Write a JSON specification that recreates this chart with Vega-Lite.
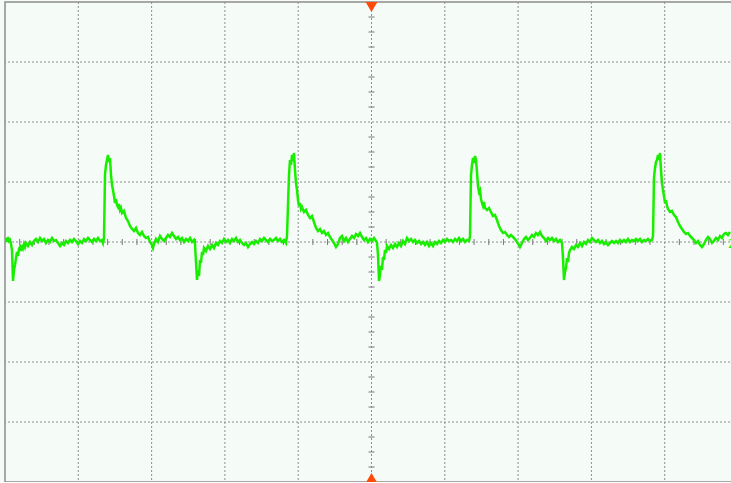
{
  "$schema": "https://vega.github.io/schema/vega-lite/v6.json",
  "width": 733,
  "height": 480,
  "autosize": "none",
  "padding": {"left": 5, "top": 2, "right": 0, "bottom": 0},
  "background": "#f5fbf7",
  "config": {
    "view": {"stroke": "#8c8c8c", "strokeWidth": 1.5, "fill": "#f5fbf7"}
  },
  "datasets": {
    "vgrid": [{"t": 73.3}, {"t": 146.6}, {"t": 219.9}, {"t": 293.2}, {"t": 366.5}, {"t": 439.8}, {"t": 513.1}, {"t": 586.4}, {"t": 659.7}],
    "hgrid": [{"v": 180}, {"v": 120}, {"v": 60}, {"v": 0}, {"v": -60}, {"v": -120}, {"v": -180}],
    "xsub": [{"t": 14.66}, {"t": 29.32}, {"t": 43.98}, {"t": 58.64}, {"t": 87.96}, {"t": 102.62}, {"t": 117.28}, {"t": 131.94}, {"t": 161.26}, {"t": 175.92}, {"t": 190.58}, {"t": 205.24}, {"t": 234.56}, {"t": 249.22}, {"t": 263.88}, {"t": 278.54}, {"t": 307.86}, {"t": 322.52}, {"t": 337.18}, {"t": 351.84}, {"t": 381.16}, {"t": 395.82}, {"t": 410.48}, {"t": 425.14}, {"t": 454.46}, {"t": 469.12}, {"t": 483.78}, {"t": 498.44}, {"t": 527.76}, {"t": 542.42}, {"t": 557.08}, {"t": 571.74}, {"t": 601.06}, {"t": 615.72}, {"t": 630.38}, {"t": 645.04}, {"t": 674.36}, {"t": 689.02}, {"t": 703.68}, {"t": 718.34}],
    "ysub": [{"v": 225}, {"v": 210}, {"v": 195}, {"v": 165}, {"v": 150}, {"v": 135}, {"v": 105}, {"v": 90}, {"v": 75}, {"v": 45}, {"v": 30}, {"v": 15}, {"v": -15}, {"v": -30}, {"v": -45}, {"v": -75}, {"v": -90}, {"v": -105}, {"v": -135}, {"v": -150}, {"v": -165}, {"v": -195}, {"v": -210}, {"v": -225}],
    "markers": [{"t": 366.5, "v": 235, "shape": "triangle-down"}, {"t": 366.5, "v": -236, "shape": "triangle-up"}],
    "trace": [
      {"t":1,"v":4},{"t":2,"v":0},{"t":3,"v":5},{"t":4,"v":1},{"t":5,"v":2},{"t":6,"v":-2},{"t":7,"v":-8},{"t":8,"v":-39},{"t":9,"v":-28},{"t":10,"v":-23},
      {"t":11,"v":-16},{"t":12,"v":-10},{"t":13,"v":-14},{"t":14,"v":-7},{"t":15,"v":-5},{"t":16,"v":-9},{"t":17,"v":-3},{"t":18,"v":-6},{"t":19,"v":-2},{"t":20,"v":-5},
      {"t":21,"v":-1},{"t":23,"v":-4},{"t":25,"v":0},{"t":27,"v":-3},{"t":29,"v":1},{"t":31,"v":3},{"t":33,"v":0},{"t":35,"v":4},{"t":37,"v":1},{"t":39,"v":3},
      {"t":41,"v":-1},{"t":43,"v":2},{"t":45,"v":0},{"t":47,"v":4},{"t":49,"v":1},{"t":51,"v":2},{"t":53,"v":-1},{"t":55,"v":-4},{"t":57,"v":-1},{"t":59,"v":-3},
      {"t":61,"v":1},{"t":63,"v":-1},{"t":65,"v":2},{"t":67,"v":0},{"t":69,"v":3},{"t":71,"v":1},{"t":73,"v":-2},{"t":75,"v":1},{"t":77,"v":-1},{"t":79,"v":3},
      {"t":81,"v":1},{"t":83,"v":4},{"t":85,"v":2},{"t":87,"v":0},{"t":89,"v":3},{"t":91,"v":1},{"t":93,"v":4},{"t":95,"v":1},{"t":97,"v":2},{"t":98,"v":-1},
      {"t":99,"v":4},{"t":100,"v":67},{"t":101,"v":77},{"t":102,"v":82},{"t":103,"v":87},{"t":104,"v":80},{"t":105,"v":84},{"t":106,"v":67},{"t":107,"v":57},{"t":108,"v":52},
      {"t":109,"v":46},{"t":110,"v":39},{"t":111,"v":43},{"t":112,"v":37},{"t":113,"v":35},{"t":114,"v":38},{"t":115,"v":32},{"t":116,"v":34},{"t":117,"v":29},{"t":119,"v":31},
      {"t":121,"v":24},{"t":123,"v":21},{"t":125,"v":16},{"t":127,"v":13},{"t":129,"v":11},{"t":131,"v":14},{"t":133,"v":9},{"t":135,"v":7},{"t":137,"v":10},{"t":139,"v":6},
      {"t":141,"v":4},{"t":143,"v":5},{"t":145,"v":0},{"t":147,"v":-3},{"t":148,"v":-6},{"t":149,"v":-2},{"t":151,"v":3},{"t":153,"v":0},{"t":155,"v":6},{"t":157,"v":3},
      {"t":159,"v":1},{"t":161,"v":4},{"t":163,"v":7},{"t":165,"v":5},{"t":167,"v":9},{"t":169,"v":6},{"t":171,"v":3},{"t":173,"v":5},{"t":175,"v":2},{"t":177,"v":4},
      {"t":179,"v":0},{"t":181,"v":3},{"t":183,"v":1},{"t":185,"v":4},{"t":187,"v":0},{"t":189,"v":2},{"t":190,"v":-2},{"t":191,"v":-20},{"t":192,"v":-38},{"t":193,"v":-28},
      {"t":194,"v":-34},{"t":195,"v":-18},{"t":196,"v":-21},{"t":197,"v":-10},{"t":198,"v":-13},{"t":199,"v":-6},{"t":201,"v":-9},{"t":203,"v":-4},{"t":205,"v":-7},{"t":207,"v":-3},
      {"t":209,"v":-6},{"t":211,"v":-1},{"t":213,"v":-3},{"t":215,"v":1},{"t":217,"v":-1},{"t":219,"v":3},{"t":221,"v":0},{"t":223,"v":2},{"t":225,"v":-1},{"t":227,"v":3},
      {"t":229,"v":1},{"t":231,"v":4},{"t":233,"v":0},{"t":235,"v":2},{"t":237,"v":-1},{"t":239,"v":-3},{"t":241,"v":-1},{"t":243,"v":-5},{"t":245,"v":-2},{"t":247,"v":0},
      {"t":249,"v":-2},{"t":251,"v":1},{"t":253,"v":-1},{"t":255,"v":3},{"t":257,"v":1},{"t":259,"v":4},{"t":261,"v":2},{"t":263,"v":0},{"t":265,"v":3},{"t":267,"v":1},
      {"t":269,"v":2},{"t":271,"v":4},{"t":273,"v":1},{"t":275,"v":3},{"t":277,"v":0},{"t":279,"v":2},{"t":281,"v":-1},{"t":282,"v":6},{"t":283,"v":37},{"t":284,"v":67},
      {"t":285,"v":82},{"t":286,"v":77},{"t":287,"v":87},{"t":288,"v":84},{"t":289,"v":89},{"t":290,"v":72},{"t":291,"v":59},{"t":292,"v":52},{"t":293,"v":42},{"t":294,"v":36},
      {"t":295,"v":39},{"t":296,"v":33},{"t":297,"v":35},{"t":299,"v":30},{"t":301,"v":32},{"t":303,"v":27},{"t":305,"v":24},{"t":307,"v":26},{"t":309,"v":20},{"t":311,"v":14},
      {"t":313,"v":11},{"t":315,"v":13},{"t":317,"v":9},{"t":319,"v":11},{"t":321,"v":7},{"t":323,"v":9},{"t":325,"v":5},{"t":327,"v":2},{"t":329,"v":-1},{"t":331,"v":-5},
      {"t":333,"v":-2},{"t":335,"v":4},{"t":337,"v":6},{"t":339,"v":1},{"t":341,"v":4},{"t":343,"v":0},{"t":345,"v":3},{"t":347,"v":6},{"t":349,"v":4},{"t":351,"v":8},
      {"t":353,"v":6},{"t":355,"v":9},{"t":357,"v":5},{"t":359,"v":2},{"t":361,"v":4},{"t":363,"v":0},{"t":365,"v":3},{"t":367,"v":1},{"t":369,"v":4},{"t":371,"v":1},
      {"t":372,"v":-1},{"t":373,"v":-13},{"t":374,"v":-39},{"t":375,"v":-33},{"t":376,"v":-24},{"t":377,"v":-28},{"t":378,"v":-15},{"t":379,"v":-18},{"t":380,"v":-8},{"t":381,"v":-11},
      {"t":382,"v":-4},{"t":384,"v":-7},{"t":386,"v":-3},{"t":388,"v":-6},{"t":390,"v":-2},{"t":392,"v":-5},{"t":394,"v":-1},{"t":396,"v":-4},{"t":398,"v":1},{"t":400,"v":-2},
      {"t":402,"v":4},{"t":404,"v":1},{"t":406,"v":3},{"t":408,"v":0},{"t":410,"v":2},{"t":412,"v":-1},{"t":414,"v":1},{"t":416,"v":-2},{"t":418,"v":0},{"t":420,"v":-3},
      {"t":422,"v":0},{"t":424,"v":-4},{"t":426,"v":-1},{"t":428,"v":-4},{"t":430,"v":0},{"t":432,"v":-2},{"t":434,"v":1},{"t":436,"v":-1},{"t":438,"v":2},{"t":440,"v":0},
      {"t":442,"v":3},{"t":444,"v":1},{"t":446,"v":2},{"t":448,"v":0},{"t":450,"v":3},{"t":452,"v":1},{"t":454,"v":4},{"t":456,"v":1},{"t":458,"v":3},{"t":460,"v":0},
      {"t":462,"v":2},{"t":464,"v":1},{"t":465,"v":6},{"t":466,"v":67},{"t":467,"v":77},{"t":468,"v":84},{"t":469,"v":79},{"t":470,"v":86},{"t":471,"v":82},{"t":472,"v":70},
      {"t":473,"v":56},{"t":474,"v":50},{"t":475,"v":52},{"t":476,"v":43},{"t":477,"v":39},{"t":478,"v":36},{"t":479,"v":40},{"t":480,"v":34},{"t":482,"v":32},{"t":484,"v":34},
      {"t":486,"v":30},{"t":488,"v":26},{"t":490,"v":27},{"t":492,"v":22},{"t":494,"v":16},{"t":496,"v":12},{"t":498,"v":9},{"t":500,"v":10},{"t":502,"v":7},{"t":504,"v":5},
      {"t":506,"v":7},{"t":508,"v":5},{"t":510,"v":3},{"t":512,"v":0},{"t":514,"v":-3},{"t":515,"v":-5},{"t":517,"v":-1},{"t":519,"v":3},{"t":521,"v":5},{"t":523,"v":2},
      {"t":525,"v":4},{"t":527,"v":7},{"t":529,"v":5},{"t":531,"v":9},{"t":533,"v":7},{"t":535,"v":10},{"t":537,"v":6},{"t":539,"v":4},{"t":541,"v":1},{"t":543,"v":4},
      {"t":545,"v":2},{"t":547,"v":4},{"t":549,"v":1},{"t":551,"v":3},{"t":553,"v":0},{"t":555,"v":2},{"t":557,"v":-1},{"t":558,"v":-16},{"t":559,"v":-38},{"t":560,"v":-30},
      {"t":561,"v":-26},{"t":562,"v":-16},{"t":563,"v":-20},{"t":564,"v":-11},{"t":565,"v":-8},{"t":567,"v":-5},{"t":569,"v":-7},{"t":571,"v":-3},{"t":573,"v":-5},{"t":575,"v":-1},
      {"t":577,"v":-4},{"t":579,"v":0},{"t":581,"v":-2},{"t":583,"v":2},{"t":585,"v":0},{"t":587,"v":4},{"t":589,"v":2},{"t":591,"v":0},{"t":593,"v":2},{"t":595,"v":-1},
      {"t":597,"v":1},{"t":599,"v":-2},{"t":601,"v":0},{"t":603,"v":-3},{"t":605,"v":-1},{"t":607,"v":1},{"t":609,"v":-1},{"t":611,"v":1},{"t":613,"v":-1},{"t":615,"v":2},
      {"t":617,"v":0},{"t":619,"v":2},{"t":621,"v":0},{"t":623,"v":3},{"t":625,"v":0},{"t":627,"v":2},{"t":629,"v":1},{"t":631,"v":3},{"t":633,"v":1},{"t":635,"v":3},
      {"t":637,"v":0},{"t":639,"v":2},{"t":641,"v":1},{"t":643,"v":3},{"t":645,"v":1},{"t":647,"v":2},{"t":648,"v":6},{"t":649,"v":64},{"t":650,"v":74},{"t":651,"v":80},
      {"t":652,"v":82},{"t":653,"v":87},{"t":654,"v":82},{"t":655,"v":89},{"t":656,"v":72},{"t":657,"v":59},{"t":658,"v":52},{"t":659,"v":46},{"t":660,"v":39},{"t":661,"v":42},
      {"t":662,"v":36},{"t":663,"v":33},{"t":665,"v":30},{"t":667,"v":31},{"t":669,"v":27},{"t":671,"v":25},{"t":673,"v":20},{"t":675,"v":16},{"t":677,"v":13},{"t":679,"v":10},
      {"t":681,"v":8},{"t":683,"v":9},{"t":685,"v":6},{"t":687,"v":4},{"t":689,"v":2},{"t":691,"v":-1},{"t":693,"v":1},{"t":695,"v":-3},{"t":697,"v":-5},{"t":699,"v":-2},
      {"t":701,"v":2},{"t":703,"v":5},{"t":705,"v":3},{"t":707,"v":-1},{"t":709,"v":1},{"t":711,"v":4},{"t":713,"v":2},{"t":715,"v":6},{"t":717,"v":4},{"t":719,"v":8},
      {"t":721,"v":9},{"t":723,"v":7},{"t":725,"v":10}
    ],
    "chlabel": [{"t": 723, "v": -2, "label": "2"}]
  },
  "layer": [
    {
      "data": {"name": "vgrid"},
      "mark": {"type": "rule", "color": "#8e8e8e", "strokeWidth": 1, "strokeDash": [2, 2]},
      "encoding": {
        "x": {"field": "t", "type": "quantitative", "scale": {"domain": [0, 733], "nice": false, "zero": false}, "axis": null}
      }
    },
    {
      "data": {"name": "hgrid"},
      "mark": {"type": "rule", "color": "#8e8e8e", "strokeWidth": 1, "strokeDash": [2, 2]},
      "encoding": {
        "y": {"field": "v", "type": "quantitative", "scale": {"domain": [-240, 240], "nice": false, "zero": false}, "axis": null}
      }
    },
    {
      "data": {"name": "xsub"},
      "mark": {"type": "rule", "color": "#7a7a7a", "strokeWidth": 1},
      "encoding": {
        "x": {"field": "t", "type": "quantitative"},
        "y": {"datum": -3, "type": "quantitative"},
        "y2": {"datum": 3}
      }
    },
    {
      "data": {"name": "ysub"},
      "mark": {"type": "rule", "color": "#7a7a7a", "strokeWidth": 1},
      "encoding": {
        "y": {"field": "v", "type": "quantitative"},
        "x": {"datum": 363.5, "type": "quantitative"},
        "x2": {"datum": 369.5}
      }
    },
    {
      "data": {"name": "trace"},
      "mark": {"type": "line", "color": "#1aee00", "strokeWidth": 2.5, "interpolate": "linear"},
      "encoding": {
        "x": {"field": "t", "type": "quantitative"},
        "y": {"field": "v", "type": "quantitative"}
      }
    },
    {
      "data": {"name": "markers"},
      "mark": {"type": "point", "filled": true, "color": "#ff4a0a", "size": 140, "opacity": 1},
      "encoding": {
        "x": {"field": "t", "type": "quantitative"},
        "y": {"field": "v", "type": "quantitative"},
        "shape": {"field": "shape", "type": "nominal", "scale": null}
      }
    },
    {
      "data": {"name": "chlabel"},
      "mark": {"type": "text", "color": "#1aee00", "fontSize": 12, "font": "DejaVu Sans", "align": "left", "baseline": "middle"},
      "encoding": {
        "x": {"field": "t", "type": "quantitative"},
        "y": {"field": "v", "type": "quantitative"},
        "text": {"field": "label"}
      }
    }
  ]
}
